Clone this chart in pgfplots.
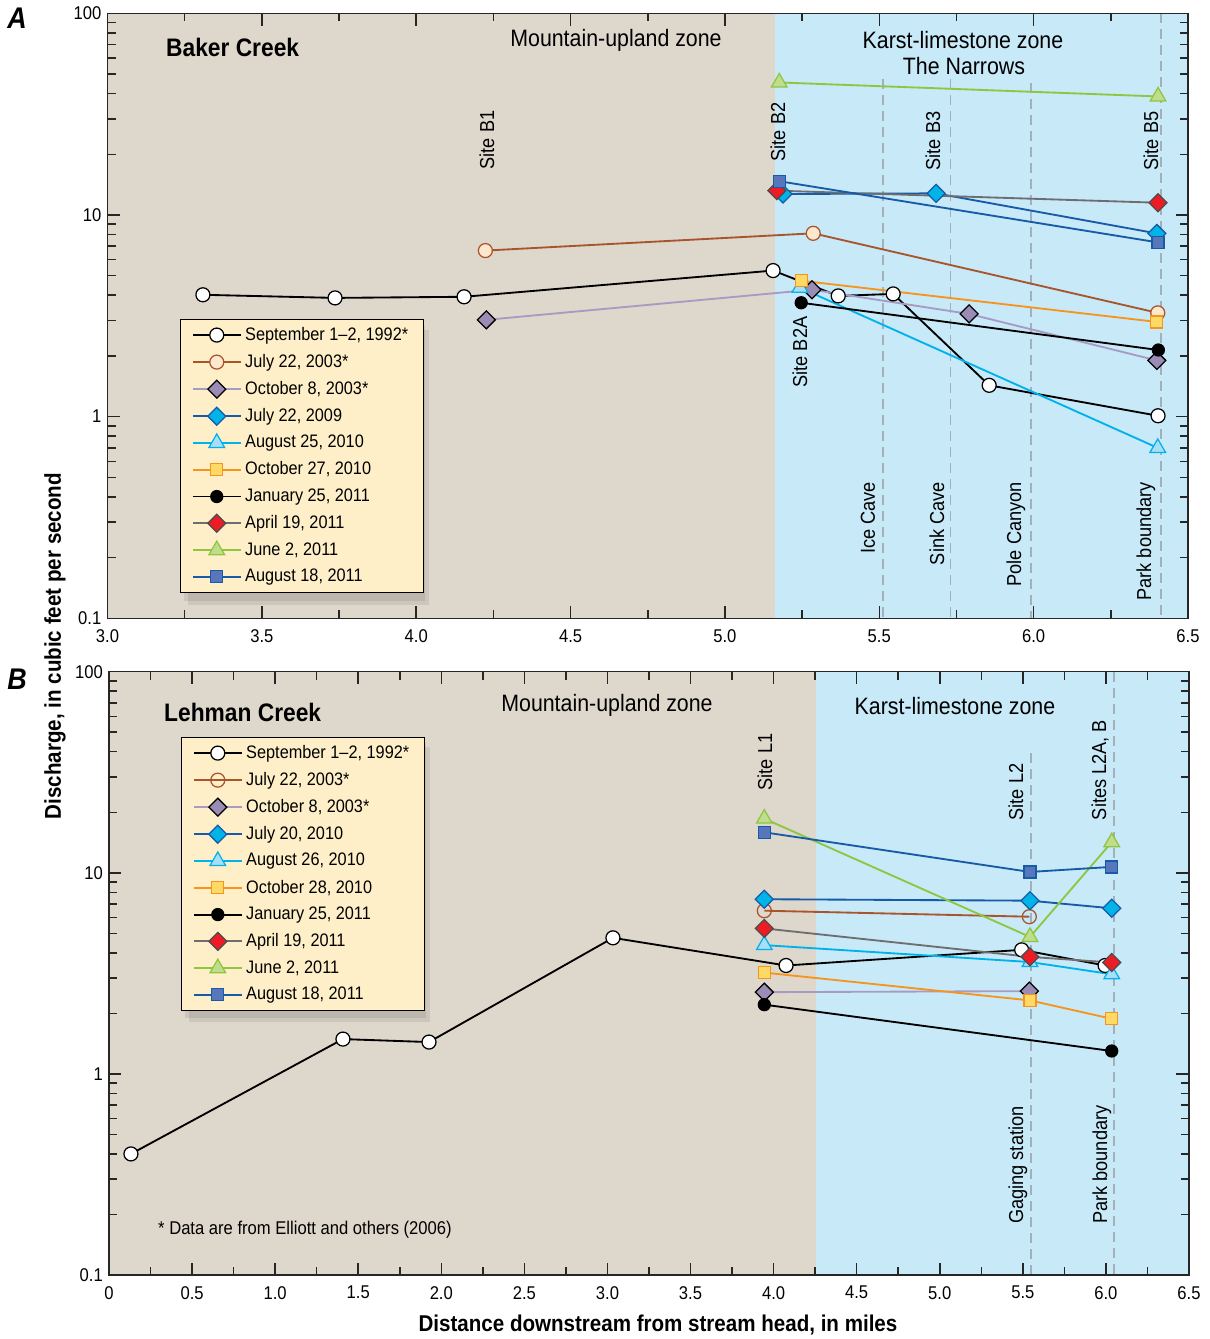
\documentclass[border=0pt]{standalone}
\usepackage{fontspec}
\setmainfont{Liberation Sans}[FakeStretch=0.9]
\usepackage{pgfplots}
\pgfplotsset{compat=1.18}
\definecolor{tanbg}{RGB}{222,215,204}
\definecolor{bluebg}{RGB}{199,233,248}
\definecolor{legfill}{RGB}{254,239,200}
\definecolor{cbrown}{RGB}{168,84,45}
\definecolor{cbrownfill}{RGB}{254,232,205}
\definecolor{cpurple}{RGB}{168,155,195}
\definecolor{cpurplefill}{RGB}{155,140,182}
\definecolor{cdblue}{RGB}{22,90,168}
\definecolor{ccyanfill}{RGB}{0,180,232}
\definecolor{ccyan}{RGB}{0,178,235}
\definecolor{clbluefill}{RGB}{170,222,247}
\definecolor{corange}{RGB}{247,148,29}
\definecolor{cyellowfill}{RGB}{255,217,102}
\definecolor{cgray}{RGB}{110,110,112}
\definecolor{cred}{RGB}{237,28,36}
\definecolor{cgreen}{RGB}{141,198,63}
\definecolor{cgreenfill}{RGB}{192,220,140}
\definecolor{cbluefill}{RGB}{88,118,188}
\definecolor{dashgray}{RGB}{165,175,186}
\newcommand{\zonefont}{\fontsize{13.5}{16}\selectfont}
\newcommand{\sitefont}{\fontsize{11.5}{13}\selectfont}
\begin{document}
\begin{tikzpicture}
\useasboundingbox (0,0) rectangle (242mm,-267.8mm);
% ---------------- Panel A ----------------
\begin{axis}[at={(21.5mm,-123.66mm)}, anchor=south west,
  scale only axis, width=216.1mm, height=121mm,
  ymode=log, ymin=0.1, ymax=100, xmin=3, xmax=6.5,
  ytick={0.1,1,10,100}, yticklabels={0.1,1,10,100},
  minor ytick={0.2,0.3,0.4,0.5,0.6,0.7,0.8,0.9,2,3,4,5,6,7,8,9,20,30,40,50,60,70,80,90},
  xtick={3,3.5,4,4.5,5,5.5,6,6.5},
  xticklabels={3.0,3.5,4.0,4.5,5.0,5.5,6.0,6.5},
  minor xtick={3.25,3.75,4.25,4.75,5.25,5.75,6.25},
  tick align=inside, major tick length=2.5mm, minor tick length=1.6mm,
  axis line style={line width=0.3mm, black!85},
  tick style={line width=0.3mm, black!85},
  tick label style={font=\fontsize{10.5}{12}\selectfont},
  xticklabel style={yshift=-1mm},
  axis on top,
  legend cell align=left,
  legend image code/.code={\draw[mark repeat=2,mark phase=2] plot coordinates {(0mm,0mm) (4.8mm,0mm) (9.6mm,0mm)};},
  legend style={at={(0.0671,0.495)}, anchor=north west, fill=legfill, draw=black,
    font=\fontsize{10.3}{12}\selectfont, inner xsep=2.3mm, inner ysep=0.9mm, row sep=0.85mm}]
\fill[tanbg] (axis cs:3,0.1) rectangle (axis cs:5.163,100);
\fill[bluebg] (axis cs:5.163,0.1) rectangle (axis cs:6.5,100);
\fill[black, opacity=0.08] (axis description cs:0.0708,0.4833) rectangle (axis description cs:0.2938,0.0286);
\fill[black, opacity=0.08] (axis description cs:0.0745,0.4766) rectangle (axis description cs:0.2975,0.0220);
\draw[dashgray, line width=0.35mm, dash pattern=on 2mm off 1.2mm] (axis cs:5.511,47) -- (axis cs:5.511,0.1);
\draw[dashgray, line width=0.35mm, dash pattern=on 2mm off 1.2mm] (axis cs:5.731,47) -- (axis cs:5.731,0.1);
\draw[dashgray, line width=0.35mm, dash pattern=on 2mm off 1.2mm] (axis cs:5.992,45) -- (axis cs:5.992,0.1);
\draw[dashgray, line width=0.35mm, dash pattern=on 2mm off 1.2mm] (axis cs:6.413,100) -- (axis cs:6.413,0.1);
\addplot[black, line width=0.37mm, mark=*, mark size=1.4mm, mark options={solid, fill=white, draw=black, line width=0.25mm}] coordinates {(3.309,4.02) (3.737,3.88) (4.155,3.93) (5.156,5.30) (5.367,3.97) (5.545,4.06) (5.856,1.43) (6.403,1.01)};
\addlegendentry{September 1–2, 1992*}
\addplot[cbrown, line width=0.37mm, mark=*, mark size=1.4mm, mark options={solid, fill=cbrownfill, draw=cbrown, line width=0.25mm}] coordinates {(4.224,6.66) (5.286,8.11) (6.402,3.27)};
\addlegendentry{July 22, 2003*}
\addplot[cpurple, line width=0.37mm, mark=square*, mark size=1.27mm, mark options={solid, rotate=45, fill=cpurplefill, draw=black, line width=0.25mm}] coordinates {(4.227,3.02) (5.282,4.26) (5.791,3.23) (6.399,1.90)};
\addlegendentry{October 8, 2003*}
\addplot[cdblue, line width=0.37mm, mark=square*, mark size=1.27mm, mark options={solid, rotate=45, fill=ccyanfill, draw=cdblue, line width=0.25mm}] coordinates {(5.188,12.7) (5.684,12.8) (6.399,8.1)};
\addlegendentry{July 22, 2009}
\addplot[ccyan, line width=0.37mm, mark=triangle*, mark size=1.8mm, mark options={solid, fill=clbluefill, draw=ccyan, line width=0.25mm}] coordinates {(5.243,4.36) (6.402,0.70)};
\addlegendentry{August 25, 2010}
\addplot[corange, line width=0.37mm, mark=square*, mark size=1.2mm, mark options={solid, fill=cyellowfill, draw=corange, line width=0.25mm}] coordinates {(5.247,4.72) (6.398,2.95)};
\addlegendentry{October 27, 2010}
\addplot[black, line width=0.37mm, mark=*, mark size=1.2mm, mark options={solid, fill=black, draw=black, line width=0.25mm}] coordinates {(5.247,3.67) (6.404,2.14)};
\addlegendentry{January 25, 2011}
\addplot[cgray, line width=0.37mm, mark=square*, mark size=1.27mm, mark options={solid, rotate=45, fill=cred, draw=black!70, line width=0.25mm}] coordinates {(5.168,13.2) (6.403,11.5)};
\addlegendentry{April 19, 2011}
\addplot[cgreen, line width=0.37mm, mark=triangle*, mark size=1.8mm, mark options={solid, fill=cgreenfill, draw=cgreen, line width=0.25mm}] coordinates {(5.176,45.4) (6.403,38.7)};
\addlegendentry{June 2, 2011}
\addplot[cdblue, line width=0.37mm, mark=square*, mark size=1.2mm, mark options={solid, fill=cbluefill, draw=cdblue, line width=0.25mm}] coordinates {(5.176,14.7) (6.403,7.31)};
\addlegendentry{August 18, 2011}
\end{axis}
% ---------------- Panel B ----------------
\begin{axis}[at={(21.8mm,-255mm)}, anchor=south west,
  scale only axis, width=216mm, height=120.66mm,
  ymode=log, ymin=0.1, ymax=100, xmin=0, xmax=6.5,
  ytick={0.1,1,10,100}, yticklabels={0.1,1,10,100},
  minor ytick={0.2,0.3,0.4,0.5,0.6,0.7,0.8,0.9,2,3,4,5,6,7,8,9,20,30,40,50,60,70,80,90},
  xtick={0,0.5,1,1.5,2,2.5,3,3.5,4,4.5,5,5.5,6,6.5},
  xticklabels={0,0.5,1.0,1.5,2.0,2.5,3.0,3.5,4.0,4.5,5.0,5.5,6.0,6.5},
  minor xtick={0.25,0.75,1.25,1.75,2.25,2.75,3.25,3.75,4.25,4.75,5.25,5.75,6.25},
  tick align=inside, major tick length=2.5mm, minor tick length=1.6mm,
  axis line style={line width=0.3mm, black!85},
  tick style={line width=0.3mm, black!85},
  tick label style={font=\fontsize{10.5}{12}\selectfont},
  xticklabel style={yshift=-1mm},
  axis on top,
  legend cell align=left,
  legend image code/.code={\draw[mark repeat=2,mark phase=2] plot coordinates {(0mm,0mm) (4.8mm,0mm) (9.6mm,0mm)};},
  legend style={at={(0.0667,0.892)}, anchor=north west, fill=legfill, draw=black,
    font=\fontsize{10.3}{12}\selectfont, inner xsep=2.3mm, inner ysep=0.9mm, row sep=0.85mm}]
\fill[tanbg] (axis cs:0,0.1) rectangle (axis cs:4.255,100);
\fill[bluebg] (axis cs:4.255,0.1) rectangle (axis cs:6.5,100);
\fill[black, opacity=0.08] (axis description cs:0.0704,0.8818) rectangle (axis description cs:0.2935,0.4260);
\fill[black, opacity=0.08] (axis description cs:0.0741,0.8752) rectangle (axis description cs:0.2972,0.4194);
\draw[dashgray, line width=0.35mm, dash pattern=on 2mm off 1.2mm] (axis cs:5.55,39.5) -- (axis cs:5.55,0.1);
\draw[dashgray, line width=0.35mm, dash pattern=on 2mm off 1.2mm] (axis cs:6.05,100) -- (axis cs:6.05,0.1);
\addplot[black, line width=0.37mm, mark=*, mark size=1.4mm, mark options={solid, fill=white, draw=black, line width=0.25mm}] coordinates {(0.132,0.40) (1.408,1.49) (1.926,1.44) (3.033,4.75) (4.075,3.46) (5.493,4.14) (5.995,3.46)};
\addlegendentry{September 1–2, 1992*}
\addplot[cbrown, line width=0.37mm, mark=o, mark size=1.4mm, mark options={solid, draw=cbrown, line width=0.25mm}] coordinates {(3.944,6.48) (5.539,6.05)};
\addlegendentry{July 22, 2003*}
\addplot[cpurple, line width=0.37mm, mark=square*, mark size=1.27mm, mark options={solid, rotate=45, fill=cpurplefill, draw=black, line width=0.25mm}] coordinates {(3.944,2.55) (5.539,2.58)};
\addlegendentry{October 8, 2003*}
\addplot[cdblue, line width=0.37mm, mark=square*, mark size=1.27mm, mark options={solid, rotate=45, fill=ccyanfill, draw=cdblue, line width=0.25mm}] coordinates {(3.944,7.39) (5.543,7.27) (6.035,6.66)};
\addlegendentry{July 20, 2010}
\addplot[ccyan, line width=0.37mm, mark=triangle*, mark size=1.8mm, mark options={solid, fill=clbluefill, draw=ccyan, line width=0.25mm}] coordinates {(3.944,4.37) (5.543,3.60) (6.035,3.13)};
\addlegendentry{August 26, 2010}
\addplot[corange, line width=0.37mm, mark=square*, mark size=1.2mm, mark options={solid, fill=cyellowfill, draw=corange, line width=0.25mm}] coordinates {(3.944,3.19) (5.543,2.32) (6.035,1.88)};
\addlegendentry{October 28, 2010}
\addplot[black, line width=0.37mm, mark=*, mark size=1.2mm, mark options={solid, fill=black, draw=black, line width=0.25mm}] coordinates {(3.944,2.21) (6.035,1.30)};
\addlegendentry{January 25, 2011}
\addplot[cgray, line width=0.37mm, mark=square*, mark size=1.27mm, mark options={solid, rotate=45, fill=cred, draw=black!70, line width=0.25mm}] coordinates {(3.944,5.29) (5.543,3.82) (6.035,3.58)};
\addlegendentry{April 19, 2011}
\addplot[cgreen, line width=0.37mm, mark=triangle*, mark size=1.8mm, mark options={solid, fill=cgreenfill, draw=cgreen, line width=0.25mm}] coordinates {(3.944,18.6) (5.543,4.80) (6.035,14.2)};
\addlegendentry{June 2, 2011}
\addplot[cdblue, line width=0.37mm, mark=square*, mark size=1.2mm, mark options={solid, fill=cbluefill, draw=cdblue, line width=0.25mm}] coordinates {(3.944,15.9) (5.543,10.1) (6.035,10.7)};
\addlegendentry{August 18, 2011}
\end{axis}
% ---------------- Annotations (pixel coordinates) ----------------
\begin{scope}[x=0.2mm,y=-0.2mm]
\node[font=\bfseries\itshape\fontsize{17}{17}\selectfont] at (17,18) {A};
\node[font=\bfseries\itshape\fontsize{17}{17}\selectfont] at (17,679) {B};
\node[anchor=west, font=\bfseries\fontsize{14.4}{15}\selectfont] at (160,47) {Baker Creek};
\node[font=\zonefont] at (616,40) {Mountain-upland zone};
\node[font=\zonefont] at (963,40) {Karst-limestone zone};
\node[font=\zonefont] at (964,66) {The Narrows};
\node[rotate=90, font=\sitefont] at (487,140) {Site B1};
\node[rotate=90, font=\sitefont] at (778,132) {Site B2};
\node[rotate=90, font=\sitefont] at (933,141) {Site B3};
\node[rotate=90, font=\sitefont] at (1151,141) {Site B5};
\node[rotate=90, font=\sitefont] at (800,352) {Site B2A};
\node[rotate=90, anchor=east, font=\sitefont] at (868,476) {Ice Cave};
\node[rotate=90, anchor=east, font=\sitefont] at (937,476) {Sink Cave};
\node[rotate=90, anchor=east, font=\sitefont] at (1016,476) {Pole Canyon};
\node[rotate=90, anchor=east, font=\sitefont] at (1146,476) {Park boundary};
\node[anchor=west, font=\bfseries\fontsize{14.4}{15}\selectfont] at (158,712) {Lehman Creek};
\node[font=\zonefont] at (607,705) {Mountain-upland zone};
\node[font=\zonefont] at (955,706) {Karst-limestone zone};
\node[rotate=90, font=\sitefont] at (765,762) {Site L1};
\node[rotate=90, font=\sitefont] at (1016,792) {Site L2};
\node[rotate=90, font=\sitefont] at (1100,770) {Sites L2A, B};
\node[rotate=90, anchor=west, font=\sitefont] at (1018,1230) {Gaging station};
\node[rotate=90, anchor=west, font=\sitefont] at (1102,1230) {Park boundary};
\node[anchor=west, font=\fontsize{10.5}{12}\selectfont] at (152,1230) {* Data are from Elliott and others (2006)};
\node[rotate=90, font=\bfseries\fontsize{13}{14}\selectfont] at (55,646) {Discharge, in cubic feet per second};
\node[font=\bfseries\fontsize{13}{14}\selectfont] at (658,1325) {Distance downstream from stream head, in miles};
\end{scope}
\end{tikzpicture}
\end{document}
